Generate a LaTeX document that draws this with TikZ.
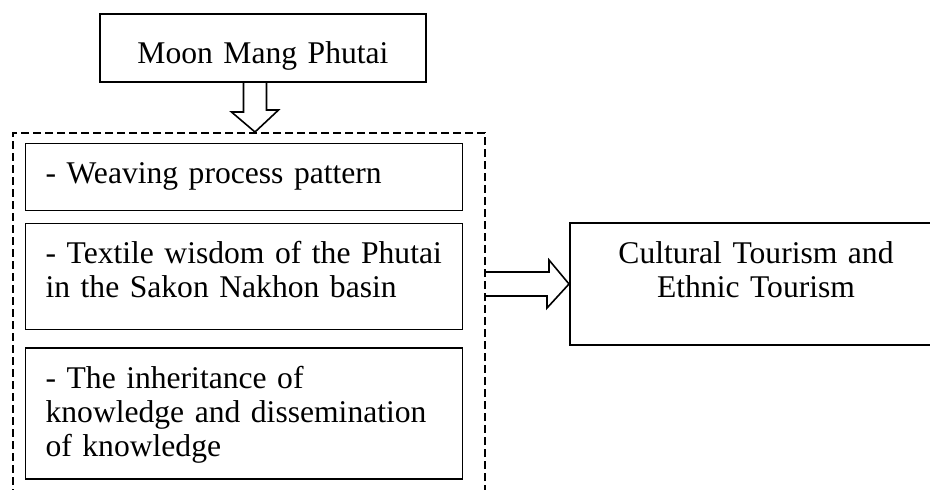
\documentclass[tikz,border=0pt]{standalone}
\usepackage{fontspec}
\setmainfont{Liberation Serif}
\usetikzlibrary{positioning}

\begin{document}
\begin{tikzpicture}[x=0.5pt,y=-0.5pt,
        font=\fontsize{15.8pt}{17pt}\selectfont,
        mainbox/.style={draw,line width=1pt,inner xsep=10pt,inner ysep=0pt,align=center},
        itembox/.style={draw,line width=0.6pt,inner xsep=10pt,inner ysep=0pt,align=left,text width=198.5pt,text height=20pt},
        grpbox/.style={draw,line width=1pt,dash pattern=on 4pt off 2pt,inner sep=0pt},
        hollow/.style={draw,line width=0.8pt,line join=miter}]
        \useasboundingbox (0,0) rectangle (930,489);
        \node[mainbox,text width=143pt,text height=24.5pt,text depth=9.5pt,anchor=north west] (top) at (99,13) {Moon Mang Phutai};
        \node[grpbox,minimum width=236pt,minimum height=184pt,anchor=north west] (grp) at (12,132) {};
        \node[itembox,text depth=13.5pt,anchor=north west] (weave) at (25,143) {- Weaving process pattern};
        \node[itembox,text depth=33pt,below=6pt of weave] (wisdom) {\mbox{- Textile wisdom of the Phutai}\\ in the Sakon Nakhon basin};
        \node[itembox,text depth=45.5pt,below=8.5pt of wisdom] (inherit) {- The inheritance of\\ knowledge and dissemination\\ of knowledge};
        \node[mainbox,text width=166pt,text height=20pt,text depth=41pt,anchor=north west] (cult) at (569,222) {Cultural Tourism and\\ Ethnic Tourism};
        \coordinate (dtip) at ([xshift=-4pt]top.south |- grp.north);
        \coordinate (rs) at (grp.east |- cult.west);
        \draw[hollow] ([xshift=-9.75pt]top.south) -- ++(0,29) -- ++(-12,0) -- (dtip)
            -- ++(23.5,-22) -- ++(-12,0) -- ([xshift=1.75pt]top.south);
        \draw[hollow] ([yshift=6pt]rs) -- ++(63,0) -- ++(0,-12) -- (cult.west)
            -- ++(-22,24) -- ++(0,-12) -- ([yshift=-6pt]rs);
    \end{tikzpicture}
\end{document}
